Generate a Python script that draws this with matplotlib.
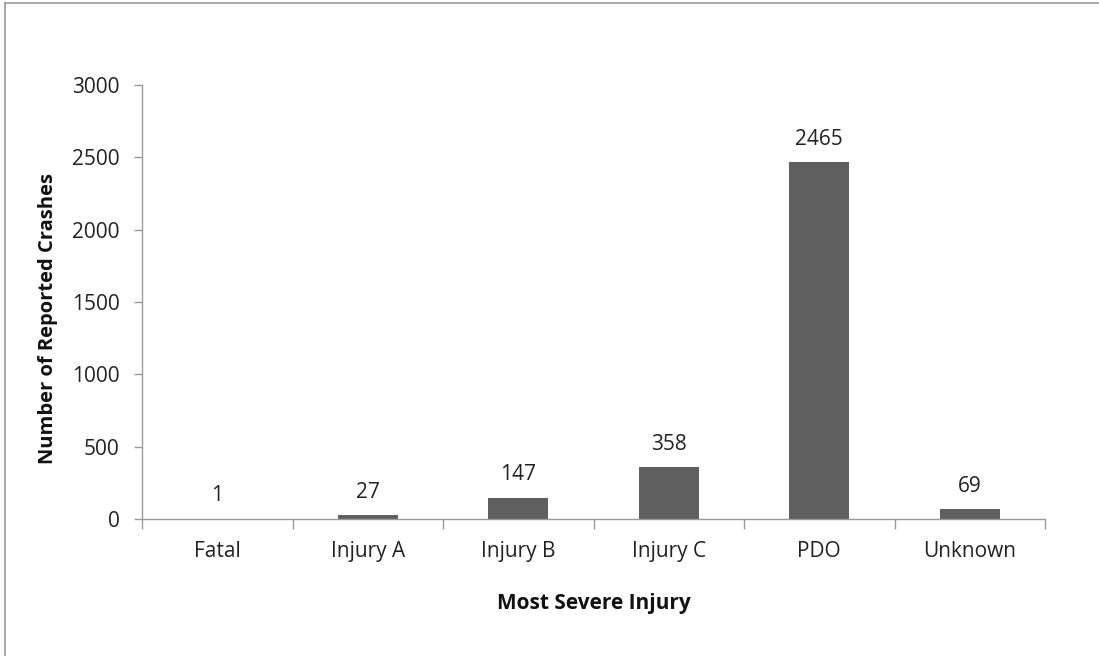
import matplotlib
matplotlib.use("Agg")
import matplotlib.pyplot as plt
from matplotlib.lines import Line2D

categories = ["Fatal", "Injury A", "Injury B", "Injury C", "PDO", "Unknown"]
values = [1, 27, 147, 358, 2465, 69]
yticks = [0, 500, 1000, 1500, 2000, 2500, 3000]

plt.rcParams['font.family'] = ['Open Sans', 'DejaVu Sans']

W, H = 1099, 656
FS = 15
fig = plt.figure(figsize=(W / 100, H / 100), dpi=100)
ax = fig.add_axes([142 / W, 1 - 519 / H, (1045 - 142) / W, (519 - 85) / H])

x = list(range(len(categories)))
bars = ax.bar(x, values, width=0.4, color="#5f5f5f", zorder=2)
for xi, v in zip(x, values):
    ax.annotate(str(v), (xi, v), xytext=(0, 9), textcoords="offset points",
                ha="center", va="bottom", fontsize=FS, color="#222222")

ax.set_xlim(-0.5, len(categories) - 0.5)
ax.set_ylim(0, 3000)
ax.set_yticks(yticks)
ax.set_yticklabels([str(t) for t in yticks], fontsize=FS, color="#222222")
ax.set_xticks(x)
ax.set_xticklabels(categories, fontsize=FS, color="#222222")
ax.tick_params(axis="x", length=0, pad=16)
ax.set_xticks([i + 0.5 for i in range(-1, len(categories))], minor=True)
ax.tick_params(axis="x", which="minor", length=7, color="#999999", width=1)
ax.tick_params(axis="y", length=6, color="#999999", width=1, pad=10)

for s in ["top", "right"]:
    ax.spines[s].set_visible(False)
for s in ["left", "bottom"]:
    ax.spines[s].set_color("#999999")
    ax.spines[s].set_linewidth(1)

ax.set_xlabel("Most Severe Injury", fontsize=15, fontweight="bold", labelpad=22, color="#111111")
ax.set_ylabel("Number of Reported Crashes", fontsize=14.5, fontweight="bold",
              color="#111111", va="center")
ax.yaxis.set_label_coords((48 - 142) / (1045 - 142), (519 - 318) / (519 - 85))

fig.add_artist(Line2D([5 / W, 5 / W], [0, 1 - 3 / H], transform=fig.transFigure, color="#999999", lw=1.2))
fig.add_artist(Line2D([5 / W, 1], [1 - 3 / H, 1 - 3 / H], transform=fig.transFigure, color="#999999", lw=1.2))

fig.savefig("out.png", dpi=100)
